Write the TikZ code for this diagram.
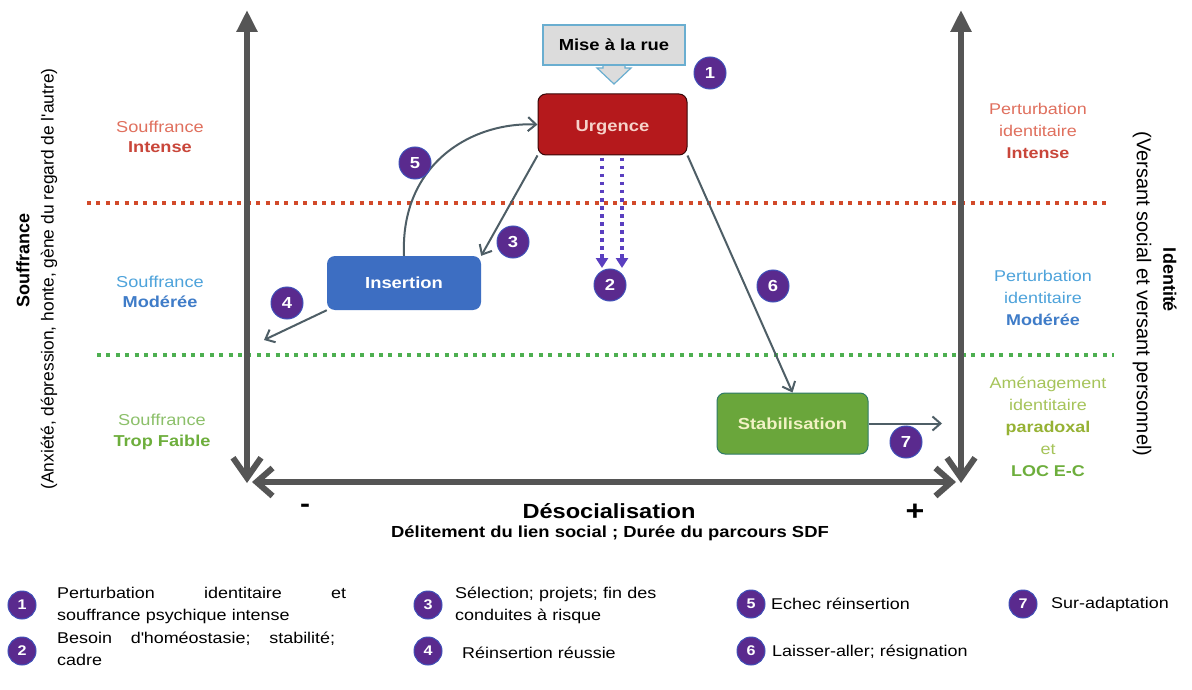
\documentclass[tikz,border=0pt]{standalone}
\usepackage{fontspec}
\setmainfont{Liberation Sans}[FakeStretch=1.15]
\newfontfamily\rotfont{Liberation Sans}
\usetikzlibrary{arrows.meta}
\definecolor{axisgray}{HTML}{555555}
\definecolor{arrgray}{HTML}{4E5E66}
\definecolor{badgec}{HTML}{5A2A8E}
\definecolor{badgering}{HTML}{3F4FB8}
\definecolor{urgc}{HTML}{B5191C}
\definecolor{urgtxt}{HTML}{F6D2CA}
\definecolor{insc}{HTML}{3D6EC2}
\definecolor{stabc}{HTML}{6AA63B}
\definecolor{stabborder}{HTML}{2F7A68}
\definecolor{stabtxt}{HTML}{F2F2C4}
\definecolor{redlt}{HTML}{E0705E}
\definecolor{reddk}{HTML}{C9463A}
\definecolor{bluelt}{HTML}{4EA3DB}
\definecolor{bluedk}{HTML}{3F7CC8}
\definecolor{greenlt}{HTML}{8CC06A}
\definecolor{greendk}{HTML}{6DAE3C}
\definecolor{yglt}{HTML}{A6C45A}
\definecolor{ygdk}{HTML}{96B234}
\definecolor{reddot}{HTML}{D24A2A}
\definecolor{greendot}{HTML}{4DAF50}
\definecolor{dotblue}{HTML}{5A3FC0}
\definecolor{miseborder}{HTML}{6AAED0}
\definecolor{misefill}{HTML}{DCDCDC}
\newcommand{\fsz}[2]{\fontsize{#1}{#2}\selectfont}
\tikzset{
 axisline/.style={draw=axisgray, line width=6pt},
 conn/.style={draw=arrgray, line width=2pt, -{Straight Barb[length=8pt,width=14pt]}},
 dotarrow/.style={draw=dotblue, line width=3.5pt, dash pattern=on 3.5pt off 4.5pt, -{Triangle[length=10pt,width=12pt]}},
 badge/.style={circle, fill=badgec, draw=badgering, line width=1pt, minimum size=32pt, inner sep=0pt, text=white, font=\bfseries\fsz{16}{18}},
 lbadge/.style={badge, minimum size=28pt, font=\bfseries\fsz{14}{16}},
 stage/.style={rounded corners=8pt, inner sep=0pt, font=\bfseries\fsz{16}{19}},
 lvl/.style={align=center, inner sep=0pt, font=\fsz{15.8}{20.5}},
 rlvl/.style={align=center, inner sep=0pt, font=\fsz{15.6}{22}},
 legend/.style={inner sep=0pt, font=\fsz{15.6}{22}, anchor=north west},
 dots/.style={line width=4pt, dash pattern=on 4pt off 5.4pt},
}
\begin{document}
\begin{tikzpicture}[x=1pt,y=-1pt]
\useasboundingbox (0,0) rectangle (1192,690);
\fill[white] (0,0) rectangle (1192,690);

% level separators
\draw[dots, draw=reddot] (87,203) -- (1111,203);
\draw[dots, draw=greendot] (97,355) -- (1114,355);

% axes
\coordinate (lb) at (247,483);
\coordinate (lt) at (247,10);
\coordinate (rb) at (961,483);
\coordinate (rt) at (961,10);
\coordinate (hl) at (252,482);
\coordinate (hr) at (956,482);
\draw[axisline, {Straight Barb[length=20pt,width=28pt]}-{Triangle[length=22pt,width=20pt]}] (lb) -- (lt);
\draw[axisline, {Straight Barb[length=20pt,width=28pt]}-{Triangle[length=22pt,width=20pt]}] (rb) -- (rt);
\draw[axisline, {Straight Barb[length=16pt,width=28pt]}-{Straight Barb[length=16pt,width=28pt]}] (hl) -- (hr);

% Mise a la rue
\fill[misefill, draw=miseborder, line width=1.2pt] (603,60) -- (603,68) -- (597,68) -- (614,84) -- (631,68) -- (625,68) -- (625,60) -- cycle;
\node[draw=miseborder, fill=misefill, line width=1.2pt, minimum width=142pt, minimum height=40pt, inner sep=0pt, font=\bfseries\fsz{16}{19}] (mise) at (614,45) {Mise à la rue};

% stages
\node[stage, fill=urgc, draw=black!70!urgc, line width=1pt, text=urgtxt, minimum width=149pt, minimum height=61pt, text height=15pt, text depth=0pt] (urg) at (612.5,124.5) {Urgence};
\node[stage, fill=insc, text=white, minimum width=154pt, minimum height=54pt] (ins) at (404,283) {Insertion};
\node[stage, fill=stabc, draw=stabborder, line width=1pt, text=stabtxt, minimum width=151pt, minimum height=61pt] (stab) at (792.5,423.5) {Stabilisation};

% connectors
\coordinate (c4) at (264,340);
\coordinate (c7) at (942,423.5);
\draw[conn] (ins.north) .. controls (400,165) and (470,122) .. (urg.west);
\draw[conn] (urg.south west) -- (ins.north east);
\draw[conn] (urg.south east) -- (stab.north);
\draw[conn] (ins.south west) -- (c4);
\draw[conn] (stab.east) -- (c7);
\coordinate (d1) at (602,268);
\coordinate (d2) at (622,268);
\draw[dotarrow] (602,158) -- (d1);
\draw[dotarrow] (622,158) -- (d2);

% badges in diagram
\node[badge] (b1) at (710,73) {1};
\node[badge] (b2) at (610,285) {2};
\node[badge] (b3) at (513,242) {3};
\node[badge] (b4) at (287,303) {4};
\node[badge] (b5) at (415,163) {5};
\node[badge] (b6) at (773,286) {6};
\node[badge] (b7) at (906,442) {7};

% left level labels
\node[lvl, text=redlt] (lI) at (160,137) {Souffrance\\{\color{reddk}\bfseries Intense}};
\node[lvl, text=bluelt] (lM) at (160,292) {Souffrance\\{\color{bluedk}\bfseries Modérée}};
\node[lvl, text=greenlt] (lF) at (162,432) {Souffrance\\{\color{greendk}\bfseries Trop Faible}};

% right level labels
\node[rlvl, text=redlt] (rI) at (1038,131) {Perturbation\\identitaire\\{\color{reddk}\bfseries Intense}};
\node[rlvl, text=bluelt] (rM) at (1043,298) {Perturbation\\identitaire\\{\color{bluedk}\bfseries Modérée}};
\node[rlvl, text=yglt] (rA) at (1048,427) {Aménagement\\identitaire\\{\color{ygdk}\bfseries paradoxal}\\et\\{\color{greendk}\bfseries LOC E-C}};

% axis titles
\node[rotate=90, inner sep=0pt, font=\rotfont\bfseries\fsz{18}{22}] (ys) at (23,260) {Souffrance};
\node[rotate=90, inner sep=0pt, font=\rotfont\fsz{17.4}{20}] (ys2) at (49,279) {(Anxiété, dépression, honte, gène du regard de l\textquotesingle autre)};
\node[rotate=-90, inner sep=0pt, font=\rotfont\bfseries\fsz{18}{22}] (yi) at (1170,280) {Identité};
\node[rotate=-90, inner sep=0pt, font=\rotfont\fsz{20}{22}] (yi2) at (1142,294) {(Versant social et versant personnel)};

\node[inner sep=0pt, font=\bfseries\fsz{20.5}{24}, anchor=base] (xd) at (609,518) {Désocialisation};
\node[inner sep=0pt, font=\bfseries\fsz{16}{19}, anchor=base] (xd2) at (610,537) {Délitement du lien social ; Durée du parcours SDF};
\node[inner sep=0pt, font=\bfseries\fsz{26}{28}] (minus) at (305,508) {-};
\node[inner sep=0pt, font=\bfseries\fsz{28}{30}] (plus) at (915,512) {+};

% legend
\node[lbadge] (L1) at (22,605) {1};
\node[lbadge] (L2) at (22,651) {2};
\node[lbadge] (L3) at (428,605) {3};
\node[lbadge] (L4) at (428,651) {4};
\node[lbadge] (L5) at (751,604) {5};
\node[lbadge] (L6) at (751,651) {6};
\node[lbadge] (L7) at (1023,604) {7};
\node[legend, text width=289pt, align=left] (T1) at (57,587) {\hbox to 289pt{Perturbation\hfill identitaire\hfill et}\\souffrance psychique intense};
\node[legend, text width=289pt, align=left] (T2) at (57,632) {\hbox to 278pt{Besoin\hfill d\textquotesingle homéostasie;\hfill stabilité;}\\cadre};
\node[legend, text width=230pt, align=left] (T3) at (455,587) {Sélection; projets; fin des\\conduites à risque};
\node[legend, anchor=west] (T4) at (462,653) {Réinsertion réussie};
\node[legend, anchor=west] (T5) at (771,604) {Echec réinsertion};
\node[legend, anchor=west] (T6) at (772,652) {Laisser-aller; résignation};
\node[legend, anchor=west] (T7) at (1051,604) {Sur-adaptation};
\end{tikzpicture}
\end{document}
